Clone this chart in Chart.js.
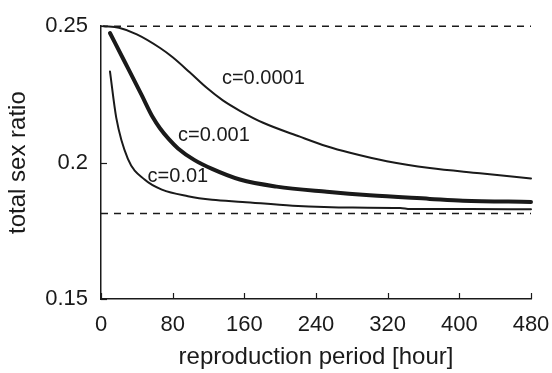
<!DOCTYPE html>
<html>
<head>
<meta charset="utf-8">
<script src="https://cdn.jsdelivr.net/npm/chart.js@4/dist/chart.umd.min.js"></script>
<style>
  html, body { margin: 0; padding: 0; background: #fff; }
  #wrap { width: 552px; height: 373px; }
</style>
</head>
<body>
<div id="wrap"><canvas id="chart" width="552" height="373"></canvas></div>
<script>
// values
const hours0001 = [3, 20, 40, 66, 80, 99, 118, 136, 155, 181, 222, 252, 278, 319, 367, 423, 480];
const ratio0001 = [0.2500, 0.2494, 0.2470, 0.2420, 0.2386, 0.2331, 0.2274, 0.2228, 0.2190, 0.2146, 0.2095, 0.2060, 0.2036, 0.2005, 0.1980, 0.1961, 0.1942];

const hours001 = [10, 27, 45, 58, 66, 76, 86, 104, 124, 155, 196, 252, 300, 367, 404, 480];
const ratio001 = [0.2475, 0.2366, 0.2250, 0.2165, 0.2125, 0.2085, 0.2052, 0.2010, 0.1977, 0.1938, 0.1912, 0.1893, 0.1880, 0.1867, 0.1860, 0.1856];

const hours01 = [10, 17, 30, 49, 68, 97, 124, 158, 214, 281, 334, 345, 412, 480];
const ratio01 = [0.2334, 0.2165, 0.2014, 0.1937, 0.1901, 0.1877, 0.1864, 0.1856, 0.1842, 0.1835, 0.1834, 0.1830, 0.1830, 0.1829];

const upperLimit = 0.25;
const lowerLimit = 0.1813;
const xTicks = [0, 80, 160, 240, 320, 400, 480];
const yTicks = [0.15, 0.2, 0.25];

const curveNames = ['c=0.0001', 'c=0.001', 'c=0.01'];
// where each curve label sits, in data units (left edge, middle)
const labelHours = [135, 86, 52];
const labelRatio = [0.2310, 0.2100, 0.1948];

const toPoints = (xs, ys) => xs.map((x, i) => ({ x: x, y: ys[i] }));

const fontName = '"Liberation Sans", Arial, Helvetica, sans-serif';
const ink = '#1a1a1a';

const curve = (pts, width) => ({
  data: pts,
  borderColor: ink,
  borderWidth: width,
  pointRadius: 0,
  cubicInterpolationMode: 'monotone',
  borderCapStyle: 'round',
  borderJoinStyle: 'round',
  fill: false,
  clip: false
});

const dashed = (value) => ({
  data: [{ x: 0, y: value }, { x: 480, y: value }],
  borderColor: ink,
  borderWidth: 1.5,
  borderDash: [7, 6],
  pointRadius: 0,
  fill: false,
  clip: false
});

// inward tick marks and the curve labels
const extras = {
  id: 'extras',
  afterDatasetsDraw(chart) {
    const ctx = chart.ctx;
    const xs = chart.scales.x, ys = chart.scales.y;
    const bottom = chart.chartArea.bottom, left = chart.chartArea.left;
    ctx.save();
    ctx.strokeStyle = ink;
    ctx.lineWidth = 1.2;
    xTicks.forEach(t => {
      const px = Math.round(xs.getPixelForValue(t)) + 0.5;
      ctx.beginPath();
      ctx.moveTo(px, bottom);
      ctx.lineTo(px, bottom - 6);
      ctx.stroke();
    });
    yTicks.forEach(t => {
      const py = Math.round(ys.getPixelForValue(t)) + 0.5;
      ctx.beginPath();
      ctx.moveTo(left, py);
      ctx.lineTo(left + 6, py);
      ctx.stroke();
    });
    ctx.fillStyle = ink;
    ctx.font = '20px ' + fontName;
    ctx.textBaseline = 'middle';
    ctx.textAlign = 'left';
    curveNames.forEach((name, i) => {
      ctx.fillText(name, xs.getPixelForValue(labelHours[i]), ys.getPixelForValue(labelRatio[i]));
    });
    ctx.restore();
  }
};

new Chart(document.getElementById('chart'), {
  type: 'line',
  data: {
    datasets: [
      dashed(upperLimit),
      dashed(lowerLimit),
      curve(toPoints(hours0001, ratio0001), 2),
      curve(toPoints(hours001, ratio001), 4),
      curve(toPoints(hours01, ratio01), 2)
    ]
  },
  options: {
    responsive: false,
    animation: false,
    events: [],
    layout: { padding: { top: 15, right: 0, left: 0, bottom: 0 } },
    plugins: { legend: { display: false }, tooltip: { enabled: false } },
    scales: {
      x: {
        type: 'linear',
        min: 0,
        max: 480,
        afterFit(s) { s.height = 74; s.paddingRight = 21; s.paddingLeft = 0; },
        afterBuildTicks(s) { s.ticks = xTicks.map(v => ({ value: v })); },
        grid: { display: false, drawTicks: false },
        border: { display: true, color: ink, width: 1.5 },
        ticks: {
          color: ink,
          font: { family: fontName, size: 22 },
          padding: 13,
          maxRotation: 0
        },
        title: {
          display: true,
          text: 'reproduction period [hour]',
          color: ink,
          font: { family: fontName, size: 24 },
          padding: { top: 0, bottom: 1 }
        }
      },
      y: {
        type: 'linear',
        min: 0.15,
        max: 0.25,
        afterFit(s) { s.width = 101; },
        afterBuildTicks(s) { s.ticks = yTicks.map(v => ({ value: v })); },
        grid: { display: false, drawTicks: false },
        border: { display: true, color: ink, width: 1.5 },
        ticks: {
          color: ink,
          font: { family: fontName, size: 22 },
          padding: 13,
          callback: v => String(Number(v.toFixed(2)))
        },
        title: {
          display: true,
          text: 'total sex ratio',
          color: ink,
          font: { family: fontName, size: 24 },
          padding: { top: 4, bottom: 0 }
        }
      }
    }
  },
  plugins: [extras]
});
</script>
</body>
</html>
